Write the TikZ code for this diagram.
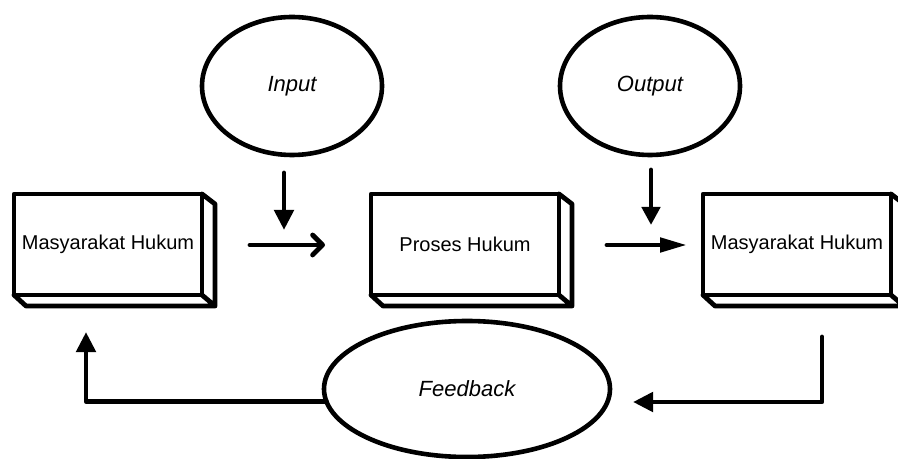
\documentclass[tikz,border=0pt]{standalone}
\usepackage{fontspec}
\setmainfont{Liberation Sans}
\usetikzlibrary{shapes.geometric,arrows.meta}

\tikzset{
  tebal/.style={line width=2.4pt, line cap=round, line join=round},
  kotak/.style={tebal, draw, rectangle, outer sep=0pt, inner sep=0pt,
    minimum width=94pt, minimum height=50.5pt, font=\fontsize{10}{12}\selectfont},
  elips/.style={draw, ellipse, line width=2.3pt, outer sep=0pt, inner sep=0pt,
    font=\fontsize{11}{13}\selectfont\itshape},
  panah/.style={tebal, -{Triangle[length=10pt,width=9.5pt]}}
}

\begin{document}
\begin{tikzpicture}[x=0.5pt,y=-0.5pt]
  \useasboundingbox (0,0) rectangle (898,459);

  % kotak
  \node[kotak] (kiri)   at (108,244.5) {Masyarakat Hukum};
  \node[kotak] (proses) at (465,244.5) {Proses Hukum};
  \node[kotak] (kanan)  at (797,244.5) {Masyarakat Hukum};
  \foreach \b in {kiri,proses,kanan}
    \draw[tebal] (\b.north east) -- ++(13,10) -- ([shift={(13,11)}]\b.south east)
      -- ([shift={(12,11)}]\b.south west) -- (\b.south west)
      (\b.south east) -- ++(13,11);

  % elips
  \node[elips, minimum width=90pt, minimum height=69pt] (in)  at (292,86) {Input};
  \node[elips, minimum width=90pt, minimum height=69pt] (out) at (650,86) {Output};
  \node[elips, minimum width=143pt, minimum height=68pt] (fb) at (467,389) {Feedback};

  % ujung panah
  \coordinate (inA) at (284,173);   \coordinate (inB) at (284,230);
  \coordinate (maA) at (250,245);   \coordinate (maB) at (325,245);
  \coordinate (outA) at (651,170);  \coordinate (outB) at (651,225);
  \coordinate (kelA) at (607,245);  \coordinate (kelB) at (687,245);
  \coordinate (ujungkiri) at (86,332);
  \coordinate (awalkanan) at (822,337);
  \coordinate (ujungkanan) at (633,402);

  \draw[panah] (inA) -- (inB);
  \draw[tebal, -{Straight Barb[length=5pt,width=10pt,round]}] (maA) -- (maB);
  \draw[tebal, -{Triangle[length=9pt,width=9pt]}] (outA) -- (outB);
  \draw[tebal, -{Triangle[length=13.5pt,width=7pt]}] (kelA) -- (kelB);
  \draw[panah] (fb.185) -| (ujungkiri);
  \draw[panah] (awalkanan) |- (ujungkanan);
\end{tikzpicture}
\end{document}
